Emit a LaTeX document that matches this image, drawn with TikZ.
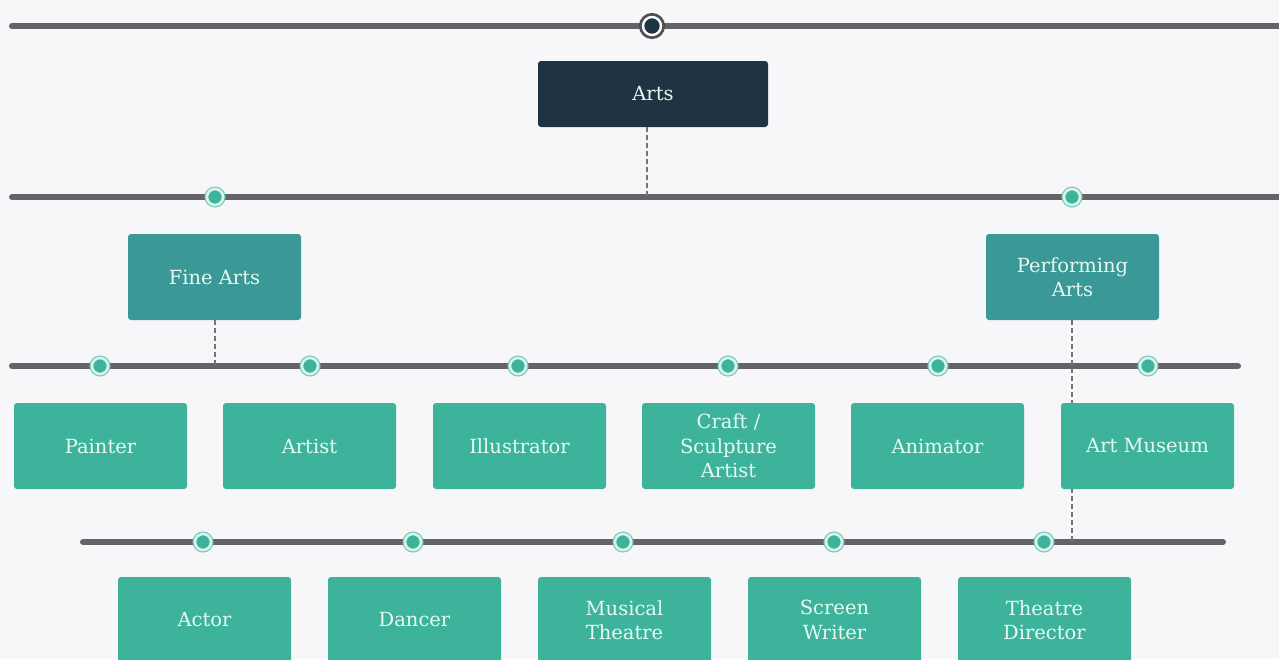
\documentclass[tikz,border=0pt]{standalone}
\usepackage{fontspec}
\setmainfont{DejaVu Serif}
\definecolor{bg}{HTML}{F7F7FA}
\definecolor{bar}{HTML}{646468}
\definecolor{navy}{HTML}{1F3443}
\definecolor{darkteal}{HTML}{3A9896}
\definecolor{teal}{HTML}{3DB39B}
\definecolor{ring}{HTML}{D8F3EA}
\definecolor{txt}{HTML}{E6FAF2}
\tikzset{
  barline/.style={line width=6pt, bar, line cap=round},
  link/.style={dash pattern=on 5pt off 3pt, line width=2.2pt, bar!90},
  box/.style={rectangle, rounded corners=3pt, minimum width=173pt, minimum height=86pt, inner sep=2pt, align=center, text=txt, font=\fontsize{19.5}{24.5}\selectfont},
  leaf/.style={box, fill=teal},
  mid/.style={box, fill=darkteal},
  root/.style={box, fill=navy, minimum width=230pt, minimum height=66pt},
  dot/.style={circle, fill=teal, draw=ring, line width=2.6pt, minimum size=16pt, inner sep=0pt, preaction={draw=teal!70, line width=5pt}},
  topdot/.style={circle, fill=navy, draw=white, line width=2.4pt, minimum size=18pt, inner sep=0pt, preaction={draw=bar!80!black, line width=8pt}},
}
\begin{document}
\begin{tikzpicture}[x=1pt,y=-1pt]
\useasboundingbox (0,0) rectangle (1279,659);
\clip (0,0) rectangle (1279,659);
\fill[bg] (0,0) rectangle (1279,659);
% bars
\coordinate (b1l) at (12,26);  \coordinate (b1r) at (1290,26);
\coordinate (b2l) at (12,197); \coordinate (b2r) at (1290,197);
\coordinate (b3l) at (12,366); \coordinate (b3r) at (1238,366);
\coordinate (b4l) at (83,542); \coordinate (b4r) at (1223,542);
\draw[barline] (b1l) -- (b1r);
\draw[barline] (b2l) -- (b2r);
\draw[barline] (b3l) -- (b3r);
\draw[barline] (b4l) -- (b4r);
% connection points on bars
\coordinate (c2) at (647,197);
\coordinate (c3) at (215,366);
\coordinate (c4) at (1072,542);
% boxes
\node[root] (arts) at (653,94) {Arts};
\node[mid] (fine) at (214.5,277) {Fine Arts};
\node[mid] (perf) at (1072.5,277) {Performing\\Arts};
% dashed connectors
\draw[link] (arts.south -| c2) -- (c2);
\draw[link] (fine.south -| c3) -- (c3);
\draw[link] (perf.south -| c4) -- (c4);
% row 1
\node[leaf] (painter) at (100.5,446) {Painter};
\node[leaf] (artist) at (309.5,446) {Artist};
\node[leaf] (illus) at (519.5,446) {Illustrator};
\node[leaf] (craft) at (728.5,446) {Craft /\\Sculpture\\Artist};
\node[leaf] (anim) at (937.5,446) {Animator};
\node[leaf] (museum) at (1147.5,446) {Art Museum};
% row 2
\node[leaf] (actor) at (204.5,620) {Actor};
\node[leaf] (dancer) at (414.5,620) {Dancer};
\node[leaf] (musical) at (624.5,620) {Musical\\Theatre};
\node[leaf] (screen) at (834.5,620) {Screen\\Writer};
\node[leaf] (director) at (1044.5,620) {Theatre\\Director};
% dots
\node[topdot] (d0) at (652,26) {};
\node[dot] (d1) at (215,197) {};
\node[dot] (d2) at (1072,197) {};
\foreach \x/\n in {100/p,310/a,518/i,728/c,938/an,1148/m}
  \node[dot] (d\n) at (\x,366) {};
\foreach \x/\n in {203/ac,413/da,623/mu,834/sc,1044/th}
  \node[dot] (d\n) at (\x,542) {};
\end{tikzpicture}
\end{document}
